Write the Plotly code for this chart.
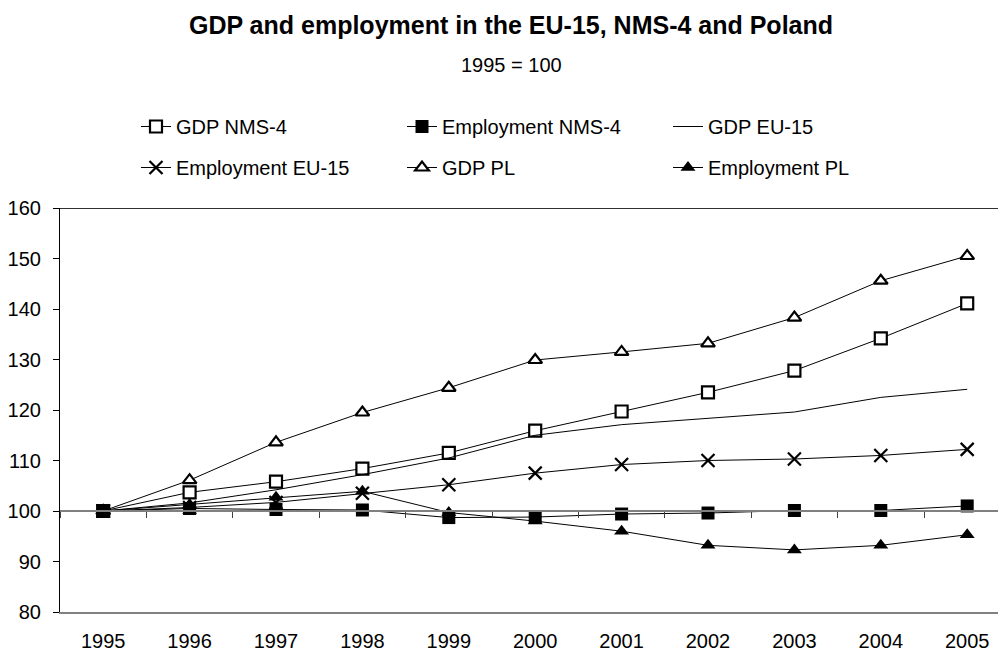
import plotly.graph_objects as go

years = ["1995", "1996", "1997", "1998", "1999", "2000", "2001", "2002", "2003", "2004", "2005"]

gdp_nms4 = [100, 103.7, 105.8, 108.4, 111.5, 115.9, 119.7, 123.5, 127.8, 134.2, 141.1]
emp_nms4 = [100, 100.5, 100.3, 100.2, 98.7, 98.8, 99.4, 99.6, 100.1, 100.1, 101.0]
gdp_eu15 = [100, 101.6, 104.2, 107.2, 110.5, 115.0, 117.1, 118.4, 119.6, 122.5, 124.1]
emp_eu15 = [100, 100.7, 101.7, 103.5, 105.2, 107.5, 109.2, 110.0, 110.3, 111.0, 112.2]
gdp_pl = [100, 106.1, 113.6, 119.5, 124.4, 129.9, 131.5, 133.2, 138.3, 145.6, 150.5]
emp_pl = [100, 101.3, 102.7, 103.9, 99.7, 98.0, 96.0, 93.2, 92.3, 93.2, 95.3]

y_ticks = [80, 90, 100, 110, 120, 130, 140, 150, 160]

FONT = "Arial, Liberation Sans, sans-serif"
W, H = 998, 654
ML, MR, MT, MB = 60, 0, 208, 42
PH = H - MT - MB

fig = go.Figure()

def add(name, y, symbol, fill, legend, size=12, lw=2.2, mode="lines+markers"):
    fig.add_trace(go.Scatter(
        x=years, y=y, name=name, mode=mode, legend=legend,
        line=dict(color="black", width=1),
        marker=dict(symbol=symbol, size=size, color=fill,
                    line=dict(color="black", width=lw)),
        cliponaxis=False,
    ))

add("GDP NMS-4", gdp_nms4, "square", "white", "legend", size=12, lw=2.2)
add("Employment NMS-4", emp_nms4, "square", "black", "legend", size=13, lw=0)
fig.add_trace(go.Scatter(x=years, y=gdp_eu15, name="GDP EU-15", mode="lines",
                         legend="legend", line=dict(color="black", width=1)))
add("Employment EU-15", emp_eu15, "x-thin", "black", "legend2", size=13, lw=2.2)
add("GDP PL", gdp_pl, "triangle-up", "white", "legend2", size=12, lw=2.2)
add("Employment PL", emp_pl, "triangle-up", "black", "legend2", size=13, lw=0)

# helper traces for the extra axes (line at 100 with boundary ticks, top frame)
fig.add_trace(go.Scatter(x=years, y=[None] * len(years), xaxis="x2", showlegend=False,
                         hoverinfo="skip", mode="lines"))
fig.add_trace(go.Scatter(x=years, y=[None] * len(years), xaxis="x3", showlegend=False,
                         hoverinfo="skip", mode="lines"))

plot_w = W - ML - MR
xr = [-0.5, -0.5 + plot_w / 86.4]
pos100 = (100 - y_ticks[0]) / (y_ticks[-1] - y_ticks[0])

leg_x = (136 - ML) / plot_w

fig.update_layout(
    width=W, height=H,
    margin=dict(l=ML, r=MR, t=MT, b=MB, autoexpand=False),
    paper_bgcolor="white", plot_bgcolor="white",
    font=dict(family=FONT, size=20, color="black"),
    title=dict(text="<b>GDP and employment in the EU-15, NMS-4 and Poland</b>",
               font=dict(size=25, family=FONT, color="black"),
               x=511 / W, xanchor="center", xref="container",
               y=1 - 25 / H, yanchor="middle", yref="container"),
    annotations=[dict(text="1995 = 100", xref="paper", yref="paper",
                      x=(511 - ML) / plot_w, y=1 + (MT - 65) / PH,
                      xanchor="center", yanchor="middle", showarrow=False,
                      font=dict(size=20, family=FONT, color="black"))],
    xaxis=dict(type="category", range=xr, showgrid=False, zeroline=False,
               showline=True, linecolor="#808080", linewidth=1.5,
               ticks="", ticklabelstandoff=10, tickfont=dict(size=20)),
    xaxis2=dict(type="category", range=xr, overlaying="x", anchor="free",
                position=pos100, side="bottom", showgrid=False, zeroline=False,
                showline=True, linecolor="#808080", linewidth=1.5,
                ticks="outside", tickson="boundaries", ticklen=6, tickwidth=1,
                tickcolor="#404040", showticklabels=False),
    xaxis3=dict(type="category", range=xr, overlaying="x", anchor="free",
                position=1, side="top", showgrid=False, zeroline=False,
                showline=True, linecolor="#303030", linewidth=1.2,
                ticks="", showticklabels=False),
    yaxis=dict(range=[y_ticks[0], y_ticks[-1]], tickvals=y_ticks, showgrid=False,
               zeroline=False, showline=True, linecolor="black", linewidth=1.2,
               ticks="outside", ticklen=6, tickcolor="black",
               ticklabelstandoff=8, tickfont=dict(size=20)),
    legend=dict(orientation="h", x=leg_x, xanchor="left",
                y=1 + (MT - 107) / PH, yanchor="top",
                entrywidth=221, font=dict(size=20, family=FONT),
                bgcolor="rgba(0,0,0,0)", itemwidth=30),
    legend2=dict(orientation="h", x=leg_x, xanchor="left",
                 y=1 + (MT - 148) / PH, yanchor="top",
                 entrywidth=221, font=dict(size=20, family=FONT),
                 bgcolor="rgba(0,0,0,0)", itemwidth=30),
    showlegend=True,
)

fig.write_html(
    "out.html",
    config={"displayModeBar": False},
    post_script="document.body.style.margin='0px';"
                "document.documentElement.style.overflow='hidden';",
)
